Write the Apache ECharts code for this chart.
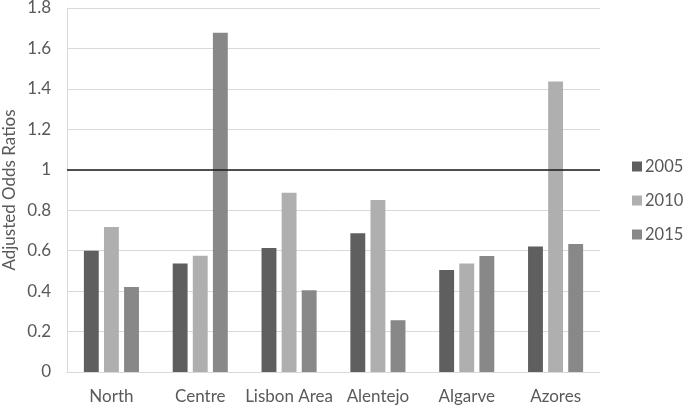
<!DOCTYPE html>
<html><head><meta charset="utf-8">
<script src="https://cdn.jsdelivr.net/npm/echarts@6/dist/echarts.min.js"></script>
<style>html,body{margin:0;padding:0;background:#fff}#c{width:685px;height:406px}</style>
</head><body><div id="c"></div>
<script>
var categories = ['North', 'Centre', 'Lisbon Area', 'Alentejo', 'Algarve', 'Azores'];
var s2005 = [0.60, 0.536, 0.613, 0.686, 0.504, 0.62];
var s2010 = [0.717, 0.575, 0.887, 0.85, 0.536, 1.436];
var s2015 = [0.42, 1.677, 0.404, 0.256, 0.574, 0.633];
var seriesNames = ['2005', '2010', '2015'];
var refValue = 1;

var FONT = 'Lato, "Open Sans", sans-serif';
var colors = ['#5f5f5f', '#afafaf', '#888888'];
var chart = echarts.init(document.getElementById('c'), null, {renderer: 'canvas'});
function bar(name, data, i, extra) {
  var s = {
    name: name, type: 'bar', data: data,
    barGap: '35%', barCategoryGap: '38%',
    itemStyle: {color: colors[i]}
  };
  if (extra) Object.assign(s, extra);
  return s;
}
chart.setOption({
  animation: false,
  textStyle: {fontFamily: FONT},
  grid: {left: 67, right: 85, top: 8, bottom: 34, containLabel: false, outerBoundsMode: 'none'},
  legend: {
    orient: 'vertical', left: 632, top: 158, padding: 0,
    itemWidth: 10, itemHeight: 10, itemGap: 17,
    icon: 'rect',
    textStyle: {fontSize: 16.5, color: '#595959', fontFamily: FONT, padding: [0, 0, 0, -2]},
    data: seriesNames
  },
  xAxis: {
    type: 'category', data: categories,
    axisLine: {lineStyle: {color: '#d9d9d9', width: 1}},
    axisTick: {show: false},
    axisLabel: {color: '#595959', fontSize: 17, margin: 16, interval: 0, fontFamily: FONT}
  },
  yAxis: {
    type: 'value', min: 0, max: 1.8, interval: 0.2,
    name: 'Adjusted Odds Ratios', nameLocation: 'middle', nameGap: 49, nameMoveOverlap: false,
    nameTextStyle: {color: '#595959', fontSize: 17, fontFamily: FONT},
    axisLine: {show: true, lineStyle: {color: '#d9d9d9'}},
    axisTick: {show: false},
    splitLine: {lineStyle: {color: '#d9d9d9', width: 1}},
    axisLabel: {color: '#595959', fontSize: 17, margin: 16, fontFamily: FONT,
      formatter: function (v) { return String(Math.round(v * 10) / 10); }}
  },
  series: [
    bar(seriesNames[0], s2005, 0, {
      markLine: {
        silent: true, symbol: 'none', label: {show: false},
        lineStyle: {color: '#1a1a1a', width: 1.5, type: 'solid'},
        data: [{yAxis: refValue}]
      }
    }),
    bar(seriesNames[1], s2010, 1),
    bar(seriesNames[2], s2015, 2)
  ]
});
</script></body></html>
